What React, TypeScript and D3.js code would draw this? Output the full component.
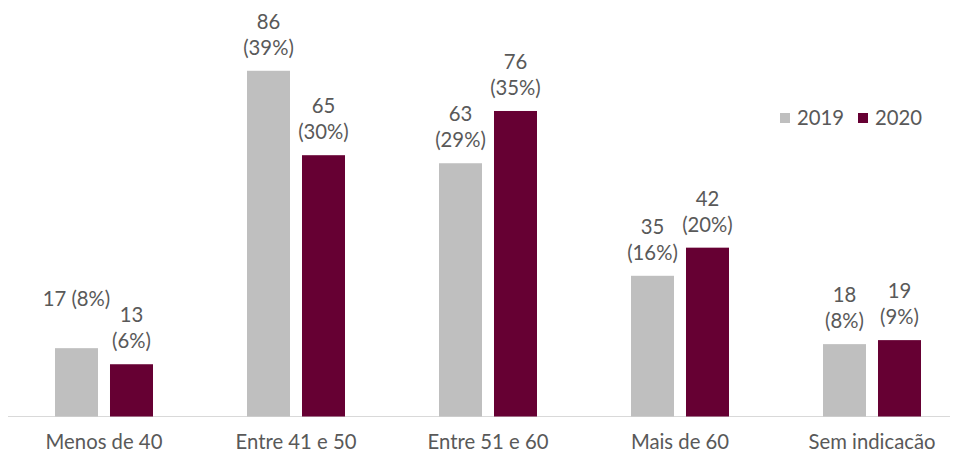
import React, { useEffect, useRef } from 'react';
import * as d3 from 'd3';

const categories = ['Menos de 40', 'Entre 41 e 50', 'Entre 51 e 60', 'Mais de 60', 'Sem indicacão'];
const years = ['2019', '2020'];
const values2019 = [17, 86, 63, 35, 18];
const values2020 = [13, 65, 76, 42, 19];
const pct2019 = [8, 39, 29, 16, 8];
const pct2020 = [6, 30, 35, 20, 9];
// labels Excel kept on a single line
const oneLineLabels = ['2019|Menos de 40'];

const colors: Record<string, string> = { '2019': '#bfbfbf', '2020': '#660033' };
const textColor = '#595959';
const font = 'Lato, "Open Sans", sans-serif';
const fontSize = 20.3;

const App = () => {
  const ref = useRef<SVGSVGElement>(null);

  useEffect(() => {
    const width = 956;
    const height = 452;
    const baseline = 416.5;

    const svg = d3.select(ref.current);
    svg.selectAll('*').remove();
    svg.attr('width', width).attr('height', height);

    const x0 = d3.scaleBand<string>().domain(categories).range([8, 968]).padding(0);
    const x1 = d3.scaleBand<string>().domain(years).range([47, 145]).paddingInner(0.218).paddingOuter(0);
    const y = d3.scaleLinear().domain([0, 100]).range([baseline, baseline - 402]);

    const rows = categories.flatMap((c, i) => [
      { cat: c, year: '2019', v: values2019[i], p: pct2019[i] },
      { cat: c, year: '2020', v: values2020[i], p: pct2020[i] },
    ]);

    // axis line
    svg.append('line')
      .attr('x1', 8).attr('x2', 950)
      .attr('y1', baseline).attr('y2', baseline)
      .attr('stroke', '#d9d9d9').attr('stroke-width', 1);

    svg.selectAll('.bar')
      .data(rows)
      .enter().append('rect')
      .attr('class', 'bar')
      .attr('x', d => x0(d.cat)! + x1(d.year)!)
      .attr('width', x1.bandwidth())
      .attr('y', d => y(d.v))
      .attr('height', d => baseline - y(d.v))
      .attr('fill', d => colors[d.year]);

    const lineH = 26;
    const labels = svg.selectAll('.lbl')
      .data(rows)
      .enter().append('text')
      .attr('class', 'lbl')
      .attr('text-anchor', 'middle')
      .attr('font-family', font)
      .attr('font-size', fontSize)
      .attr('fill', textColor);

    labels.each(function (d) {
      const t = d3.select(this);
      const cx = x0(d.cat)! + x1(d.year)! + x1.bandwidth() / 2;
      const last = y(d.v) - 16;
      if (oneLineLabels.includes(`${d.year}|${d.cat}`)) {
        t.append('tspan').attr('x', cx).attr('y', last - lineH).text(`${d.v} (${d.p}%)`);
      } else {
        t.append('tspan').attr('x', cx).attr('y', last - lineH).text(`${d.v}`);
        t.append('tspan').attr('x', cx).attr('y', last).text(`(${d.p}%)`);
      }
    });

    // category labels
    svg.selectAll('.cat')
      .data(categories)
      .enter().append('text')
      .attr('class', 'cat')
      .attr('x', d => x0(d)! + 96)
      .attr('y', 449)
      .attr('text-anchor', 'middle')
      .attr('font-family', font)
      .attr('font-size', fontSize)
      .attr('fill', textColor)
      .text(d => d);

    // legend
    const legendX = [780, 858];
    const lg = svg.selectAll('.lg')
      .data(years)
      .enter().append('g')
      .attr('class', 'lg')
      .attr('transform', (d, i) => `translate(${legendX[i]},113)`);
    lg.append('rect').attr('width', 10).attr('height', 10).attr('fill', d => colors[d]);
    lg.append('text')
      .attr('x', 17).attr('y', 12)
      .attr('font-family', font)
      .attr('font-size', fontSize)
      .attr('fill', textColor)
      .text(d => d);
  }, []);

  return (
    <div style={{ position: 'absolute', left: 0, top: 0 }}>
      <svg ref={ref} style={{ display: 'block' }}></svg>
    </div>
  );
};

export default App;
